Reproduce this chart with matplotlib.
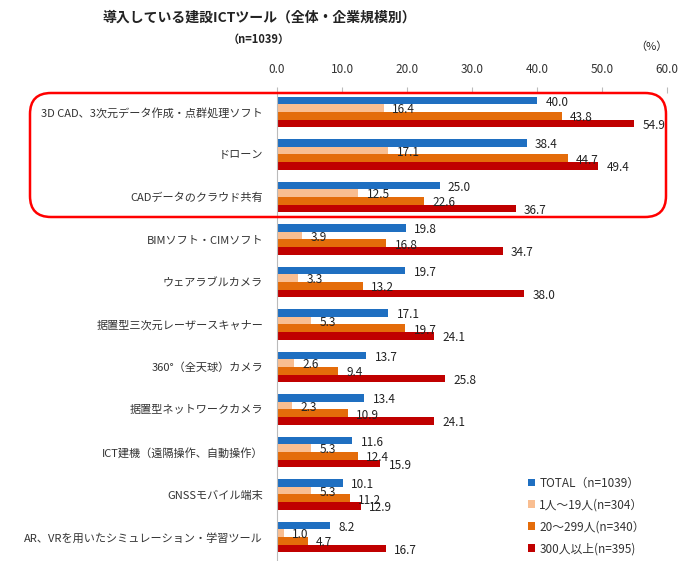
import numpy as np
import matplotlib
matplotlib.use("Agg")
import matplotlib.pyplot as plt
from matplotlib.patches import FancyBboxPatch

plt.rcParams['font.family'] = ['Noto Sans CJK JP', 'DejaVu Sans']

categories = [
    "3D CAD、3次元データ作成・点群処理ソフト",
    "ドローン",
    "CADデータのクラウド共有",
    "BIMソフト・CIMソフト",
    "ウェアラブルカメラ",
    "据置型三次元レーザースキャナー",
    "360°（全天球）カメラ",
    "据置型ネットワークカメラ",
    "ICT建機（遠隔操作、自動操作）",
    "GNSSモバイル端末",
    "AR、VRを用いたシミュレーション・学習ツール",
]
total = [40.0, 38.4, 25.0, 19.8, 19.7, 17.1, 13.7, 13.4, 11.6, 10.1, 8.2]
small = [16.4, 17.1, 12.5, 3.9, 3.3, 5.3, 2.6, 2.3, 5.3, 5.3, 1.0]
mid = [43.8, 44.7, 22.6, 16.8, 13.2, 19.7, 9.4, 10.9, 12.4, 11.2, 4.7]
large = [54.9, 49.4, 36.7, 34.7, 38.0, 24.1, 25.8, 24.1, 15.9, 12.9, 16.7]
series_names = ["TOTAL（n=1039）", "1人～19人(n=304）", "20～299人(n=340）", "300人以上(n=395)"]
colors = ["#1F6FC1", "#F9BE91", "#E46C0A", "#C00000"]
xticks = [0, 10, 20, 30, 40, 50, 60]

fig = plt.figure(figsize=(7, 5.61), dpi=100)
ax = fig.add_axes([277 / 700, 0.0, 390 / 700, 1 - 93 / 561])

h = 0.18
y = np.arange(len(categories))
series = [total, small, mid, large]
for k, (vals, c) in enumerate(zip(series, colors)):
    yy = y + (k - 1.5) * h
    ax.barh(yy, vals, height=h, color=c, label=series_names[k])
    for yi, v in zip(yy, vals):
        ax.text(v + 1.3, yi + 0.04, f"{v:.1f}", va="center", ha="left",
                fontsize=8.5, color="#222222")

ax.set_xlim(0, 60)
ax.set_ylim(len(categories) - 0.435, -0.447)
ax.xaxis.tick_top()
ax.set_xticks(xticks)
ax.set_xticklabels([f"{t:.1f}" for t in xticks], fontsize=8.5, color="#333333")
ax.tick_params(axis="x", length=4, color="#bbbbbb", pad=8)
ax.set_yticks(y)
ax.set_yticklabels(categories, fontsize=8, color="#333333")
ax.tick_params(axis="y", length=0, pad=10)
for s in ["top", "right", "bottom"]:
    ax.spines[s].set_visible(False)
ax.spines["left"].set_color("#bbbbbb")

leg = ax.legend(loc="lower left", bbox_to_anchor=((517 - 277) / 390, -0.01),
                frameon=False, fontsize=8.5, handlelength=0.6, handleheight=0.6,
                handletextpad=0.4, labelspacing=0.75)
for t in leg.get_texts():
    t.set_color("#333333")

box = FancyBboxPatch((30 / 700, 1 - 217 / 561), 636 / 700, 124 / 561,
                     boxstyle="round,pad=0,rounding_size=0.03",
                     transform=fig.transFigure, fill=False,
                     edgecolor="#FF0000", linewidth=1.8, clip_on=False,
                     mutation_aspect=700 / 561)
fig.patches.append(box)

fig.text(259 / 700, 1 - 18 / 561, "導入している建設ICTツール（全体・企業規模別）",
         ha="center", va="center", fontsize=10, fontweight="bold", color="#222222")
fig.text(259 / 700, 1 - 39 / 561, "（n=1039）", ha="center", va="center",
         fontsize=8, fontweight="bold", color="#222222")
fig.text(668 / 700, 1 - 47 / 561, "（%）", ha="right", va="center",
         fontsize=8, color="#222222")

fig.savefig("out.png", dpi=100)
